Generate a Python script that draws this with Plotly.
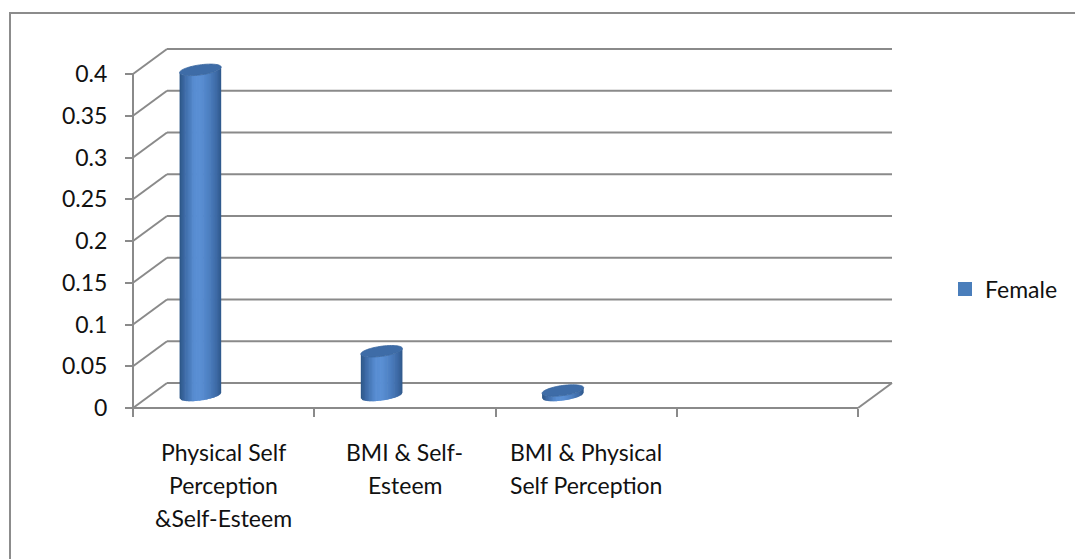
import math
import plotly.graph_objects as go

# ---- data -------------------------------------------------------------
categories = [
    "Physical Self Perception &Self-Esteem",
    "BMI & Self-Esteem",
    "BMI & Physical Self Perception",
    "",
]
category_lines = [
    ["Physical Self", "Perception", "&Self-Esteem"],
    ["BMI & Self-", "Esteem"],
    ["BMI & Physical", "Self Perception"],
    [],
]
series_name = "Female"
female = [0.39, 0.053, 0.006]
y_tick_values = [0, 0.05, 0.1, 0.15, 0.2, 0.25, 0.3, 0.35, 0.4]
y_tick_labels = ["0", "0.05", "0.1", "0.15", "0.2", "0.25", "0.3", "0.35", "0.4"]

# ---- geometry of the pseudo-3D frame ---------------------------------
FIG_W, FIG_H = 1075, 559
PX_PER_CAT = 181.25          # pixels per category slot
PX_PER_VAL = 835.0           # pixels per value unit
FRONT_X_PX, FRONT_Y_PX = 133, 408   # where x=0 / value=0 sit
PLOT_L, PLOT_R, PLOT_T, PLOT_B = 122, 894, 45, 413
DEPTH_X = 34 / PX_PER_CAT    # back wall offset (data units)
DEPTH_Y = 25 / PX_PER_VAL
N_SLOTS = len(categories)
Y_MAX = max(y_tick_values)

GRID = "#8a8a8a"
FONT = "Lato"
FONT_SIZE = 23
TEXT = "#111111"

x_range = [(PLOT_L - FRONT_X_PX) / PX_PER_CAT, (PLOT_R - FRONT_X_PX) / PX_PER_CAT]
y_range = [(FRONT_Y_PX - PLOT_B) / PX_PER_VAL, (FRONT_Y_PX - PLOT_T) / PX_PER_VAL]

shapes = []


def line(x0, y0, x1, y1, layer="below"):
    shapes.append(dict(type="line", xref="x", yref="y", x0=x0, y0=y0, x1=x1, y1=y1,
                       line=dict(color=GRID, width=2), layer=layer))


# back wall gridlines and the side-wall diagonals
for v in y_tick_values:
    line(DEPTH_X, v + DEPTH_Y, N_SLOTS + DEPTH_X, v + DEPTH_Y)
    line(0, v, DEPTH_X, v + DEPTH_Y)
# floor front edge, right edge and the front value axis
line(0, 0, N_SLOTS, 0)
line(N_SLOTS, 0, N_SLOTS + DEPTH_X, DEPTH_Y)
line(0, 0, 0, Y_MAX)

# ---- cylinders ---------------------------------------------------------
A_PX, B_PX, TILT = 21.0, 5.0, math.radians(8)
BAR_SLOT_POS = 0.278
N_STRIPS = 30
OVERLAP_PX = 0.7

grad = [(0.0, (44, 85, 134)), (0.12, (61, 106, 166)), (0.35, (88, 141, 210)),
        (0.5, (90, 143, 212)), (0.7, (77, 128, 194)), (0.9, (60, 104, 163)),
        (1.0, (45, 87, 138))]


def shade(u):
    for (u0, c0), (u1, c1) in zip(grad[:-1], grad[1:]):
        if u0 <= u <= u1:
            t = (u - u0) / (u1 - u0)
            r, g, b = (round(c0[k] + (c1[k] - c0[k]) * t) for k in range(3))
            return f"rgb({r},{g},{b})"
    return "rgb(45,87,138)"


cs, sn = math.cos(TILT), math.sin(TILT)
qa = sn * sn / A_PX ** 2 + cs * cs / B_PX ** 2
x_ext = math.sqrt((A_PX * cs) ** 2 + (B_PX * sn) ** 2)


def lower_env(X):
    qb = 2 * X * cs * sn * (1 / A_PX ** 2 - 1 / B_PX ** 2)
    qc = X * X * (cs * cs / A_PX ** 2 + sn * sn / B_PX ** 2) - 1
    disc = max(qb * qb - 4 * qa * qc, 0.0)
    return (-qb - math.sqrt(disc)) / (2 * qa)


def pt(cx, cy, dx_px, dy_px):
    return cx + dx_px / PX_PER_CAT, cy + dy_px / PX_PER_VAL


for i, v in enumerate(female):
    cx = i + BAR_SLOT_POS + DEPTH_X / 2
    base = DEPTH_Y / 2
    top = base + v
    # body, as vertical strips shaded across the width
    for k in range(N_STRIPS):
        xa = -x_ext + 2 * x_ext * k / N_STRIPS
        xb = min(-x_ext + 2 * x_ext * (k + 1) / N_STRIPS + OVERLAP_PX, x_ext)
        p1 = pt(cx, top, xa, lower_env(xa))
        p2 = pt(cx, top, xb, lower_env(xb))
        p3 = pt(cx, base, xb, lower_env(xb))
        p4 = pt(cx, base, xa, lower_env(xa))
        col = shade((k + 0.5) / N_STRIPS)
        path = "M{},{} L{},{} L{},{} L{},{} Z".format(*p1, *p2, *p3, *p4)
        shapes.append(dict(type="path", xref="x", yref="y", path=path, fillcolor=col,
                           line=dict(width=0), layer="above"))
    # top cap
    pts = []
    for j in range(72):
        t = 2 * math.pi * j / 72
        ex, ey = A_PX * math.cos(t), B_PX * math.sin(t)
        pts.append(pt(cx, top, ex * cs - ey * sn, ex * sn + ey * cs))
    path = "M" + " L".join(f"{x},{y}" for x, y in pts) + " Z"
    shapes.append(dict(type="path", xref="x", yref="y", path=path, fillcolor="#3e6ca7",
                       line=dict(color="#3a67a0", width=0.8), layer="above"))

# chart frame
def paper_x(px):
    return (px - PLOT_L) / (PLOT_R - PLOT_L)


def paper_y(py):
    return (PLOT_B - py) / (PLOT_B - PLOT_T)


shapes.append(dict(type="rect", xref="paper", yref="paper",
                   x0=paper_x(10), x1=paper_x(FIG_W + 20),
                   y0=paper_y(FIG_H + 20), y1=paper_y(13),
                   line=dict(color="#8c8c8c", width=2), fillcolor="rgba(0,0,0,0)",
                   layer="below"))

# ---- category labels (one annotation per text line) -------------------
annotations = []
LINE_STEP = 33
for i, lines in enumerate(category_lines):
    for j, txt in enumerate(lines):
        annotations.append(dict(x=i + 0.5, y=0, xref="x", yref="y", text=txt,
                                showarrow=False, xanchor="center", yanchor="middle",
                                yshift=-(44 + LINE_STEP * j),
                                font=dict(family=FONT, size=FONT_SIZE, color=TEXT)))

fig = go.Figure()
fig.add_trace(go.Scatter(x=[None], y=[None], mode="markers", name=series_name,
                         marker=dict(symbol="square", size=14, color="#4a7ebb"),
                         showlegend=True))

fig.update_layout(
    width=FIG_W, height=FIG_H,
    margin=dict(l=PLOT_L, r=FIG_W - PLOT_R, t=PLOT_T, b=FIG_H - PLOT_B, pad=0),
    paper_bgcolor="white", plot_bgcolor="rgba(0,0,0,0)",
    showlegend=True,
    legend=dict(x=paper_x(945), y=paper_y(289), xanchor="left", yanchor="middle",
                font=dict(family=FONT, size=FONT_SIZE, color=TEXT),
                bgcolor="rgba(0,0,0,0)"),
    xaxis=dict(range=x_range, showgrid=False, zeroline=False, showline=False,
               tickmode="array", tickvals=list(range(N_SLOTS + 1)), showticklabels=False,
               ticks="outside", ticklen=8, tickwidth=2, tickcolor=GRID,
               anchor="free", position=(PLOT_B - FRONT_Y_PX) / (PLOT_B - PLOT_T)),
    yaxis=dict(range=y_range, showgrid=False, zeroline=False, showline=False,
               tickmode="array", tickvals=y_tick_values, ticktext=y_tick_labels,
               ticks="outside", ticklen=8, tickwidth=2, tickcolor=GRID,
               ticklabelstandoff=13,
               tickfont=dict(family=FONT, size=FONT_SIZE, color=TEXT),
               anchor="free", position=paper_x(FRONT_X_PX)),
    shapes=shapes,
    annotations=annotations,
)

fig.write_html("out.html")
